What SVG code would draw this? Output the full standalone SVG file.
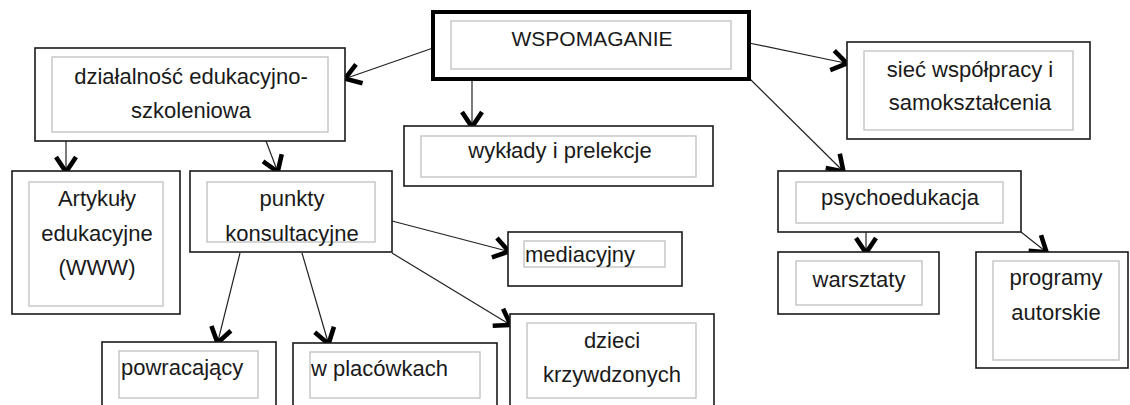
<svg xmlns="http://www.w3.org/2000/svg" width="1130" height="405" viewBox="0 0 1130 405">
<style>
  .outer{fill:#fff;stroke:#1a1a1a;stroke-width:1.6}
  .main{fill:#fff;stroke:#000;stroke-width:4}
  .inner{fill:none;stroke:#c4c4c4;stroke-width:1.4}
  text{font-family:"Liberation Sans",Arial,sans-serif;font-size:22px;fill:#1a1a1a}
  .c{text-anchor:middle}
  .conn line{stroke:#222;stroke-width:1.2;marker-end:url(#v)}
</style>
<defs>
  <marker id="v" markerUnits="userSpaceOnUse" markerWidth="30" markerHeight="30" viewBox="-20 -15 30 30" refX="-2" refY="0" orient="auto">
    <path d="M-15,-10 L0,0 L-15,10" fill="none" stroke="#000" stroke-width="4.6" stroke-linejoin="miter" stroke-linecap="butt"/>
  </marker>
</defs>
<rect width="1130" height="405" fill="#fff"/>

<g id="conn" class="conn">
  <line x1="433" y1="48" x2="347" y2="78"/>
  <line x1="472" y1="79" x2="472" y2="125"/>
  <line x1="749" y1="43" x2="845" y2="63"/>
  <line x1="749" y1="78" x2="842" y2="170"/>
  <line x1="66" y1="141" x2="66" y2="170"/>
  <line x1="266" y1="141" x2="277" y2="170"/>
  <line x1="240" y1="253" x2="218" y2="341"/>
  <line x1="302" y1="253" x2="328" y2="342"/>
  <line x1="392" y1="221" x2="507" y2="251"/>
  <line x1="392" y1="253" x2="509" y2="324"/>
  <line x1="866" y1="232" x2="866" y2="251"/>
  <line x1="1021" y1="232" x2="1045" y2="251"/>
</g>

<g id="wspomaganie">
  <rect class="main" x="433" y="12" width="316" height="67"/>
  <rect class="inner" x="451" y="21" width="280" height="48"/>
  <text class="c" x="592" y="46" style="font-size:21px">WSPOMAGANIE</text>
</g>

<g id="dzialalnosc">
  <rect class="outer" x="35" y="48" width="310" height="93"/>
  <rect class="inner" x="52" y="57" width="276" height="75"/>
  <text class="c" x="191" y="84">działalność edukacyjno-</text>
  <text class="c" x="191" y="118">szkoleniowa</text>
</g>

<g id="wyklady">
  <rect class="outer" x="404" y="126" width="309" height="60"/>
  <rect class="inner" x="421" y="136" width="275" height="41"/>
  <text class="c" x="560" y="158">wykłady i prelekcje</text>
</g>

<g id="siec">
  <rect class="outer" x="847" y="42" width="243" height="97"/>
  <rect class="inner" x="864" y="51" width="209" height="79"/>
  <text class="c" x="970" y="77">sieć współpracy i</text>
  <text class="c" x="970" y="110">samokształcenia</text>
</g>

<g id="artykuly">
  <rect class="outer" x="12" y="171" width="168" height="143"/>
  <rect class="inner" x="29" y="182" width="134" height="124"/>
  <text class="c" x="97" y="206">Artykuły</text>
  <text class="c" x="97" y="241">edukacyjne</text>
  <text class="c" x="97" y="275">(WWW)</text>
</g>

<g id="punkty">
  <rect class="outer" x="190" y="171" width="202" height="81"/>
  <rect class="inner" x="207" y="182" width="168" height="60"/>
  <text class="c" x="292" y="206">punkty</text>
  <text class="c" x="292" y="241">konsultacyjne</text>
</g>

<g id="mediacyjny">
  <rect class="outer" x="508" y="232" width="174" height="54"/>
  <rect class="inner" x="524" y="241" width="141" height="26"/>
  <text x="525" y="262">mediacyjny</text>
</g>

<g id="psychoedukacja">
  <rect class="outer" x="778" y="171" width="243" height="61"/>
  <rect class="inner" x="796" y="182" width="207" height="41"/>
  <text class="c" x="900" y="205">psychoedukacja</text>
</g>

<g id="warsztaty">
  <rect class="outer" x="778" y="252" width="161" height="62"/>
  <rect class="inner" x="796" y="261" width="126" height="44"/>
  <text class="c" x="859" y="287">warsztaty</text>
</g>

<g id="programy">
  <rect class="outer" x="976" y="252" width="152" height="116"/>
  <rect class="inner" x="993" y="261" width="126" height="99"/>
  <text class="c" x="1056" y="285">programy</text>
  <text class="c" x="1056" y="320">autorskie</text>
</g>

<g id="powracajacy">
  <rect class="outer" x="102" y="342" width="174" height="70"/>
  <rect class="inner" x="119" y="351" width="139" height="47"/>
  <text x="121" y="375">powracający</text>
</g>

<g id="wplacowkach">
  <rect class="outer" x="293" y="343" width="204" height="70"/>
  <rect class="inner" x="310" y="352" width="170" height="46"/>
  <text x="311" y="376">w placówkach</text>
</g>

<g id="dzieci">
  <rect class="outer" x="510" y="314" width="204" height="100"/>
  <rect class="inner" x="527" y="323" width="169" height="75"/>
  <text class="c" x="612" y="348">dzieci</text>
  <text class="c" x="612" y="382">krzywdzonych</text>
</g>
</svg>
